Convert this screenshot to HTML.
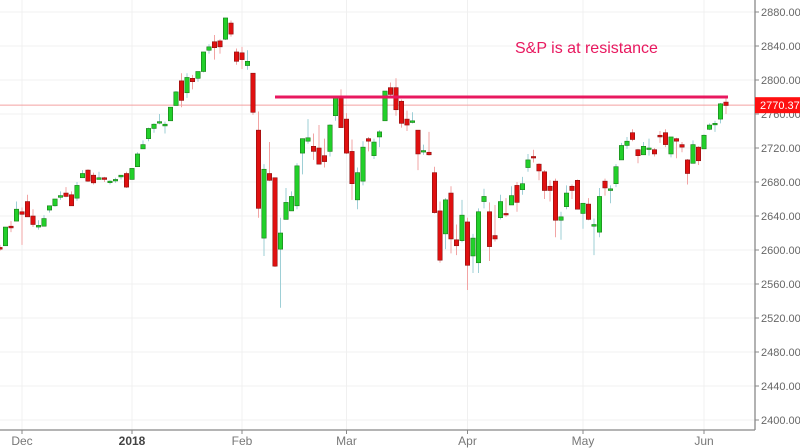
<!DOCTYPE html>
<html><head><meta charset="utf-8"><style>
html,body{margin:0;padding:0;background:#fff;width:800px;height:448px;overflow:hidden}
svg{display:block}
text{font-family:"Liberation Sans",sans-serif}
</style></head><body>
<svg id="chart" width="800" height="448"></svg>
<script>
const dates=["11-27","11-28","11-29","11-30","12-01","12-04","12-05","12-06","12-07","12-08","12-11","12-12","12-13","12-14","12-15","12-18","12-19","12-20","12-21","12-22","12-26","12-27","12-28","12-29","01-02","01-03","01-04","01-05","01-08","01-09","01-10","01-11","01-12","01-16","01-17","01-18","01-19","01-22","01-23","01-24","01-25","01-26","01-29","01-30","01-31","02-01","02-02","02-05","02-06","02-07","02-08","02-09","02-12","02-13","02-14","02-15","02-16","02-20","02-21","02-22","02-23","02-26","02-27","02-28","03-01","03-02","03-05","03-06","03-07","03-08","03-09","03-12","03-13","03-14","03-15","03-16","03-19","03-20","03-21","03-22","03-23","03-26","03-27","03-28","03-29","04-02","04-03","04-04","04-05","04-06","04-09","04-10","04-11","04-12","04-13","04-16","04-17","04-18","04-19","04-20","04-23","04-24","04-25","04-26","04-27","04-30","05-01","05-02","05-03","05-04","05-07","05-08","05-09","05-10","05-11","05-14","05-15","05-16","05-17","05-18","05-21","05-22","05-23","05-24","05-25","05-29","05-30","05-31","06-01","06-04","06-05","06-06","06-07"];
const opens=[2603,2605,2628,2634,2645,2657,2640,2627,2628,2647,2652,2662,2667,2665,2661,2685,2694,2688,2683,2685,2680,2683,2686,2690,2683,2698,2719,2731,2743,2751,2746,2752,2770,2799,2785,2802,2802,2810,2835,2845,2846,2848,2867,2833,2832,2817,2808,2741,2614,2690,2685,2601,2636,2646,2652,2714,2728,2722,2720,2711,2716,2758,2781,2754,2716,2659,2681,2731,2711,2733,2752,2791,2791,2775,2754,2750,2741,2716,2715,2691,2646,2619,2667,2612,2611,2633,2593,2585,2657,2645,2617,2638,2643,2653,2676,2671,2697,2710,2701,2692,2675,2681,2635,2651,2675,2682,2643,2654,2628,2621,2681,2670,2678,2706,2723,2738,2718,2712,2719,2718,2735,2738,2713,2731,2724,2706,2702,2721,2719,2742,2749,2754,2774];
const highs=[2606,2627,2634,2657,2650,2665,2648,2635,2641,2652,2660,2669,2674,2669,2680,2694,2695,2691,2692,2686,2682,2685,2688,2692,2696,2715,2729,2744,2749,2760,2751,2768,2787,2808,2808,2806,2810,2833,2842,2853,2848,2873,2870,2837,2839,2835,2808,2763,2701,2727,2685,2638,2673,2669,2702,2731,2754,2737,2747,2731,2748,2780,2789,2761,2730,2697,2728,2733,2731,2741,2787,2797,2802,2777,2764,2762,2741,2724,2739,2698,2657,2661,2675,2630,2659,2638,2619,2649,2672,2656,2653,2665,2661,2675,2680,2686,2713,2718,2702,2694,2682,2684,2645,2676,2677,2683,2655,2661,2637,2673,2684,2676,2701,2726,2733,2742,2719,2727,2731,2720,2740,2742,2733,2732,2727,2707,2729,2722,2736,2749,2752,2773,2779];
const lows=[2599,2605,2621,2634,2606,2639,2627,2624,2628,2644,2651,2659,2662,2652,2658,2685,2680,2677,2683,2680,2677,2679,2683,2673,2683,2698,2719,2728,2738,2748,2737,2752,2770,2768,2779,2789,2798,2809,2831,2824,2831,2847,2851,2818,2813,2812,2759,2638,2593,2681,2580,2532,2636,2646,2648,2689,2725,2706,2701,2697,2710,2752,2744,2713,2659,2648,2676,2716,2707,2721,2752,2780,2758,2744,2740,2749,2694,2712,2711,2643,2585,2601,2596,2594,2609,2553,2573,2573,2649,2587,2610,2636,2639,2653,2645,2665,2692,2703,2682,2660,2657,2615,2612,2648,2660,2648,2625,2635,2594,2615,2664,2655,2674,2706,2719,2728,2702,2712,2711,2710,2726,2721,2709,2708,2715,2677,2702,2700,2719,2741,2739,2749,2760];
const closes=[2601,2627,2626,2648,2642,2639,2630,2629,2637,2652,2660,2664,2663,2652,2676,2690,2681,2679,2685,2683,2681,2683,2688,2674,2696,2713,2724,2743,2748,2751,2748,2768,2786,2776,2803,2798,2810,2833,2839,2838,2839,2873,2854,2822,2824,2822,2762,2649,2695,2682,2581,2620,2656,2663,2699,2731,2732,2716,2701,2704,2747,2780,2744,2714,2678,2691,2721,2728,2727,2739,2787,2783,2765,2749,2747,2752,2713,2717,2712,2644,2588,2659,2613,2605,2641,2582,2614,2645,2663,2604,2613,2657,2642,2664,2656,2678,2706,2709,2693,2670,2670,2635,2639,2667,2670,2648,2655,2636,2630,2663,2673,2672,2698,2723,2728,2730,2711,2722,2720,2713,2733,2724,2733,2728,2721,2690,2724,2705,2735,2747,2749,2772,2770];
const yTicks=[2400,2440,2480,2520,2560,2600,2640,2680,2720,2760,2800,2840,2880];
const monthLabels=["Dec","2018","Feb","Mar","Apr","May","Jun"];
const monthIdx=[4,24,44,63,85,106,128];
const lastPrice=2770.37;
const resistance=2780;
const resistStartIdx=50;

const NS="http://www.w3.org/2000/svg";
const svg=document.getElementById('chart');
const X=i=>i*5.5;
const Y=v=>12+(2880-v)*0.85;
function el(t,a,p){const e=document.createElementNS(NS,t);for(const k in a)e.setAttribute(k,a[k]);(p||svg).appendChild(e);return e;}
const grid=el('g',{});


yTicks.forEach(v=>{
  const l=el('line',{x1:0,x2:755,y1:Y(v),y2:Y(v),stroke:'#f0f0f0','stroke-width':1},grid);
  
  
});
monthIdx.forEach(i=>{
  const l=el('line',{x1:X(i),x2:X(i),y1:0,y2:430,stroke:'#f0f0f0','stroke-width':1},grid);
  
  
});
const lp=el('line',{x1:0,x2:755,y1:Y(lastPrice),y2:Y(lastPrice),stroke:'#f4a0a0','stroke-width':1});


const cg=el('g',{});


dates.forEach((d,i)=>{
  const up=closes[i]>=opens[i];
  const x=X(i);
  const g=el('g',{},cg);
  
  
  el('line',{x1:x,x2:x,y1:Y(highs[i]),y2:Y(lows[i]),stroke:up?'#9ecfd6':'#f2a4a4','stroke-width':1},g);
  const top=Y(Math.max(opens[i],closes[i])),bot=Y(Math.min(opens[i],closes[i]));
  el('rect',{x:x-2.2,y:top,width:4.4,height:Math.max(1.5,bot-top),fill:up?'#22d02a':'#e01010',stroke:up?'#1a7a1a':'#8a1010','stroke-width':0.6},g);
});
const rl=el('line',{x1:X(resistStartIdx),x2:X(dates.length-1)+2,y1:Y(resistance),y2:Y(resistance),stroke:'#e8185f','stroke-width':3});


const ann=el('text',{x:515,y:53,fill:'#e8185f','font-size':16});
ann.textContent='S&P is at resistance';


const ax=el('line',{x1:755,x2:755,y1:0,y2:430,stroke:'#888','stroke-width':1.3});


const bx=el('line',{x1:0,x2:755,y1:430,y2:430,stroke:'#888','stroke-width':1.3});


yTicks.forEach(v=>{
  el('line',{x1:755,x2:759,y1:Y(v),y2:Y(v),stroke:'#888'});
  const t=el('text',{x:761,y:Y(v)+4,fill:'#666','font-size':11});
  t.textContent=v.toFixed(2);
  
  
});
monthIdx.forEach((i,k)=>{
  el('line',{x1:X(i),x2:X(i),y1:430,y2:434,stroke:'#888'});
  const t=el('text',{x:X(i),y:445,fill:monthLabels[k]==='2018'?'#444':'#777','font-size':12,'text-anchor':'middle','font-weight':monthLabels[k]==='2018'?'bold':'normal'});
  t.textContent=monthLabels[k];
  
  
});
const pb=el('rect',{x:755,y:Y(lastPrice)-8,width:45,height:16,fill:'#ff1010'});


const pt=el('text',{x:760,y:Y(lastPrice)+4,fill:'#fff','font-size':11});
pt.textContent=lastPrice.toFixed(2);


</script>
</body></html>
